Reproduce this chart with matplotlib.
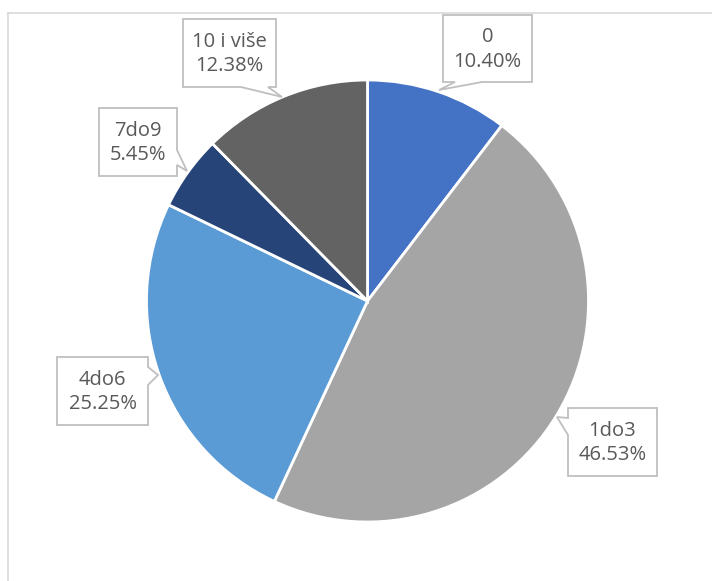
import matplotlib
matplotlib.use("Agg")
import matplotlib.pyplot as plt
from matplotlib.patches import Polygon
from matplotlib.lines import Line2D

categories = ["0", "1do3", "4do6", "7do9", "10 i više"]
shares = [10.40, 46.53, 25.25, 5.45, 12.38]
colors = ["#4472C4", "#A5A5A5", "#5B9BD5", "#264478", "#636363"]

W, H = 712, 581
fig = plt.figure(figsize=(W / 100, H / 100), dpi=100)
fig.patch.set_facecolor("white")

# chart frame (only top and left edges are visible)
fig.add_artist(Line2D([8 / W, 8 / W], [0, 1 - 13 / H], color="#d9d9d9", lw=1.2))
fig.add_artist(Line2D([8 / W, 1], [1 - 13 / H, 1 - 13 / H], color="#d9d9d9", lw=1.2))

# pie: centre (367, 301) px, radius 221 px
cx, cy, r = 367.5, 301, 221
pie_ax = fig.add_axes([(cx - r) / W, 1 - (cy + r) / H, 2 * r / W, 2 * r / H])
pie_ax.pie(shares, colors=colors, startangle=90, counterclock=False,
           wedgeprops=dict(edgecolor="white", linewidth=2))
pie_ax.set_aspect("equal")
pie_ax.set_xlim(-1, 1); pie_ax.set_ylim(-1, 1)
pie_ax.axis("off")

# overlay axes in pixel coordinates for callouts
ov = fig.add_axes([0, 0, 1, 1], zorder=5)
ov.set_xlim(0, W); ov.set_ylim(H, 0); ov.axis("off")

# box (x0, y0, x1, y1), side of pointer, pointer base (a, b), tip
callouts = {
    "0": ((443, 15, 532, 82), "bottom", (455, 482), (439, 90)),
    "1do3": ((568, 408, 657, 476), "left", (418, 435), (557, 417)),
    "4do6": ((57, 357, 148, 425), "right", (367, 385), (158, 375)),
    "7do9": ((99, 108, 177, 176), "right", (150, 165), (187, 171)),
    "10 i više": ((183, 19, 276, 87), "bottom", (241, 268), (282, 97)),
}


def callout_path(box, side, base, tip):
    x0, y0, x1, y1 = box
    a, b = base
    if side == "bottom":
        return [(x0, y0), (x1, y0), (x1, y1), (b, y1), tip, (a, y1), (x0, y1)]
    if side == "left":
        return [(x0, y0), (x1, y0), (x1, y1), (x0, y1), (x0, b), tip, (x0, a)]
    if side == "right":
        return [(x0, y0), (x1, y0), (x1, a), tip, (x1, b), (x1, y1), (x0, y1)]
    return [(x0, y0), (a, y0), tip, (b, y0), (x1, y0), (x1, y1), (x0, y1)]


for name, share in zip(categories, shares):
    box, side, base, tip = callouts[name]
    ov.add_patch(Polygon(callout_path(box, side, base, tip), closed=True,
                         facecolor="white", edgecolor="#bfbfbf", lw=1.3))
    x0, y0, x1, y1 = box
    ov.text((x0 + x1) / 2, (y0 + y1) / 2 + 1, f"{name}\n{share:.2f}%", ha="center", va="center",
            fontsize=14.5, color="#595959", linespacing=1.3, family="Open Sans")

fig.savefig("out.png", dpi=100)
